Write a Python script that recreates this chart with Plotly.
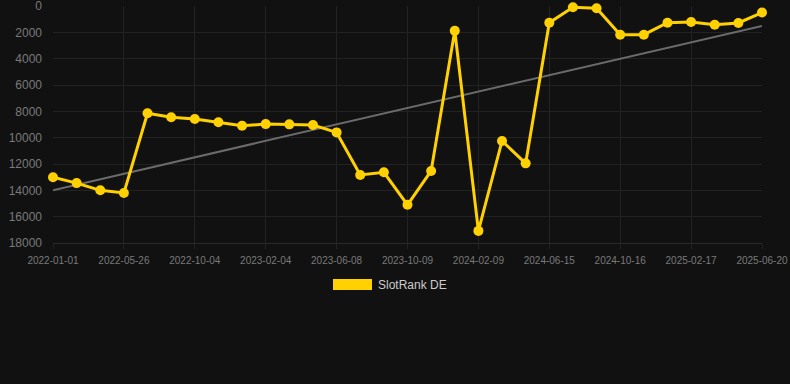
import numpy as np
import plotly.graph_objects as go

dates = [
    "2022-01-01", "2022-02-18", "2022-04-08", "2022-05-26", "2022-07-08", "2022-08-21",
    "2022-10-04", "2022-11-14", "2022-12-25", "2023-02-04", "2023-03-17", "2023-04-27",
    "2023-06-08", "2023-07-19", "2023-08-29", "2023-10-09", "2023-11-19", "2023-12-30",
    "2024-02-09", "2024-03-21", "2024-05-03", "2024-06-15", "2024-07-26", "2024-09-05",
    "2024-10-16", "2024-11-26", "2025-01-06", "2025-02-17", "2025-03-30", "2025-05-10",
    "2025-06-20",
]
rank_de = [
    13000, 13450, 14000, 14200, 8150, 8450, 8580, 8830, 9100, 8970, 8990, 9040,
    9600, 12830, 12630, 15100, 12530, 1880, 17080, 10250, 11950, 1270, 100, 170,
    2180, 2180, 1270, 1210, 1420, 1290, 500,
]
tick_labels = dates[::3]
y_ticks = [0, 2000, 4000, 6000, 8000, 10000, 12000, 14000, 16000, 18000]

idx = np.arange(len(rank_de))
slope, intercept = np.polyfit(idx, rank_de, 1)
trend = (slope * idx + intercept).tolist()

YELLOW = "#FFD100"
BG = "#111111"
GRID = "#222222"

fig = go.Figure()
fig.add_trace(go.Scatter(
    x=[dates[0], dates[-1]], y=[trend[0], trend[-1]], mode="lines",
    line=dict(color="#6b6b6b", width=2), showlegend=False, hoverinfo="skip",
    cliponaxis=False,
))
fig.add_trace(go.Scatter(
    x=dates, y=rank_de, mode="lines+markers", name="SlotRank DE",
    line=dict(color=YELLOW, width=3),
    marker=dict(color=YELLOW, size=10),
    cliponaxis=False, showlegend=False,
))

fig.update_layout(
    width=790, height=384,
    paper_bgcolor=BG, plot_bgcolor=BG,
    margin=dict(l=53, r=28, t=6, b=141, autoexpand=False),
    font=dict(family="Arial, Liberation Sans, sans-serif", color="#7a7a7a"),
    showlegend=False,
)
fig.update_xaxes(
    type="category", categoryorder="array", categoryarray=dates,
    range=[0, len(dates) - 1],
    tickmode="array", tickvals=tick_labels, ticktext=tick_labels,
    tickfont=dict(size=10, color="#7a7a7a"),
    showgrid=True, gridcolor=GRID, gridwidth=1,
    zeroline=False, showline=True, linecolor="#2a2a2a",
    ticks="outside", ticklen=5, tickcolor=GRID,
    ticklabelstandoff=3, ticklabeloverflow="allow", automargin=False,
)
fig.update_yaxes(
    range=[18000, 0],
    tickmode="array", tickvals=y_ticks, ticktext=[str(v) for v in y_ticks],
    tickfont=dict(size=12, color="#7a7a7a"),
    showgrid=True, gridcolor=GRID, gridwidth=1,
    zeroline=False, showline=False,
    ticks="", ticklabelstandoff=10, ticklabeloverflow="allow", automargin=False,
)

# legend
fig.add_shape(type="rect", xref="paper", yref="paper",
              x0=(333 - 53) / 709, x1=(372 - 53) / 709,
              y0=(243 - 290) / 237, y1=(243 - 279) / 237,
              fillcolor=YELLOW, line=dict(width=0))
fig.add_annotation(xref="paper", yref="paper", x=(376 - 53) / 709, y=(243 - 284.5) / 237,
                   text="SlotRank DE", showarrow=False, xanchor="left", yanchor="middle",
                   font=dict(size=12, color="#cccccc"))

fig.write_html("out.html", config={"displayModeBar": False},
               post_script="document.body.style.margin='0';document.body.style.background='#111111';")
